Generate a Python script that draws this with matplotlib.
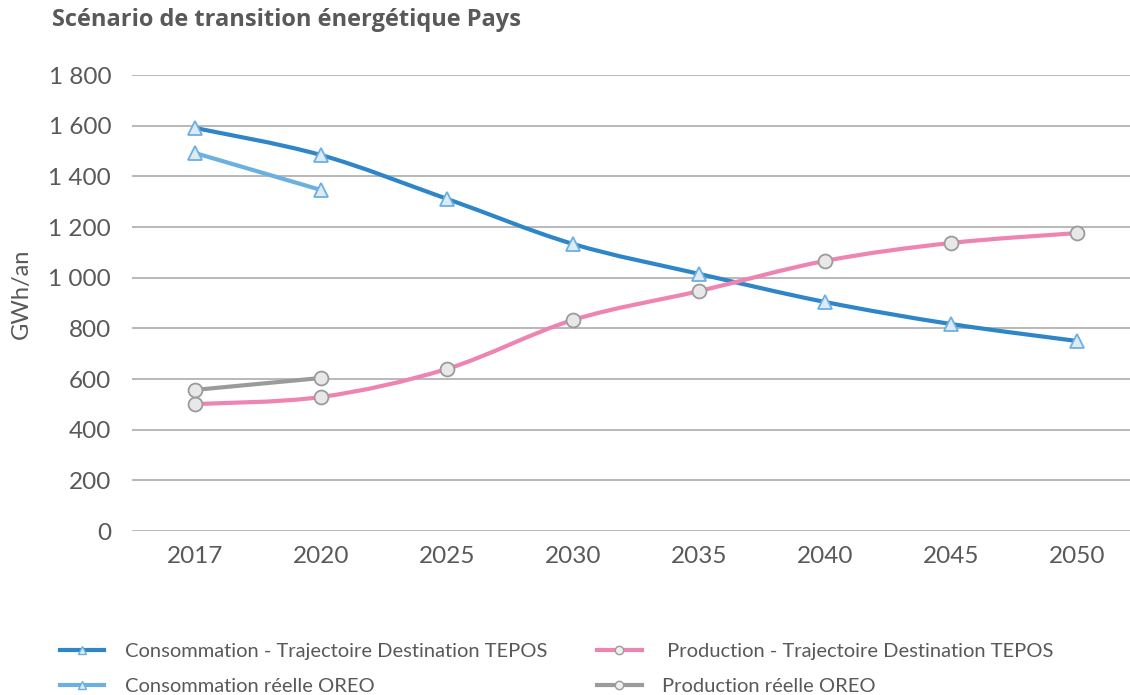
import matplotlib
matplotlib.use('Agg')
import matplotlib.pyplot as plt
from matplotlib.path import Path
from matplotlib.patches import PathPatch
from matplotlib.lines import Line2D
from matplotlib.ticker import FuncFormatter

plt.rcParams['font.family'] = ['Lato', 'DejaVu Sans']

years = ['2017', '2020', '2025', '2030', '2035', '2040', '2045', '2050']
conso_tepos = [1591, 1484, 1311, 1133, 1015, 904, 817, 750]
prod_tepos = [501, 529, 640, 833, 947, 1066, 1137, 1176]
conso_oreo = [1492, 1346]
prod_oreo = [557, 604]

labels = ['Consommation - Trajectoire Destination TEPOS',
          'Consommation réelle OREO',
          ' Production - Trajectoire Destination TEPOS',
          'Production réelle OREO']

TXT = '#595959'
BLUE = '#2E86C8'
LBLUE = '#6CB0E2'
PINK = '#EE84B2'
GREY = '#9B9B9B'


def smooth_path(xs, ys, t=1/6):
    # Excel-like smoothed line: cubic Bezier through each point
    verts = [(xs[0], ys[0])]
    codes = [Path.MOVETO]
    n = len(xs)
    for i in range(n - 1):
        x0, y0 = (xs[i - 1], ys[i - 1]) if i > 0 else (xs[i], ys[i])
        x1, y1 = xs[i], ys[i]
        x2, y2 = xs[i + 1], ys[i + 1]
        x3, y3 = (xs[i + 2], ys[i + 2]) if i + 2 < n else (x2, y2)
        c1 = (x1 + (x2 - x0) * t, y1 + (y2 - y0) * t)
        c2 = (x2 - (x3 - x1) * t, y2 - (y3 - y1) * t)
        verts += [c1, c2, (x2, y2)]
        codes += [Path.CURVE4] * 3
    return Path(verts, codes)


fig = plt.figure(figsize=(11.3, 6.95), dpi=100)
ax = fig.add_axes([132 / 1130, 1 - 531 / 695, 1 - 132 / 1130, (531 - 75) / 695])

x = list(range(len(years)))
series = [
    (x, conso_tepos, BLUE, '^', '#DDEBF7', LBLUE),
    (x[:2], conso_oreo, LBLUE, '^', '#DDEBF7', LBLUE),
    (x, prod_tepos, PINK, 'o', '#E8E8E8', GREY),
    (x[:2], prod_oreo, GREY, 'o', '#E8E8E8', GREY),
]
for xs, ys, col, mk, mfc, mec in series:
    ax.add_patch(PathPatch(smooth_path(xs, ys), facecolor='none', edgecolor=col,
                           lw=3.0, capstyle='round', zorder=3))
    ax.plot(xs, ys, ls='none', marker=mk, ms=10, mfc=mfc, mec=mec, mew=1.3, zorder=4)

ax.set_xlim(-0.5, 7.42)
ax.set_ylim(0, 1800)
ax.set_yticks(range(0, 1801, 200))
ax.yaxis.set_major_formatter(FuncFormatter(lambda v, p: f'{int(v):,}'.replace(',', ' ')))
ax.set_xticks(x)
ax.set_xticklabels(years)
ax.grid(axis='y', color='#B3B3B3', lw=1.3)
ax.set_axisbelow(True)
for s in ax.spines.values():
    s.set_visible(False)
ax.tick_params(length=0, labelsize=17.5, labelcolor=TXT)
ax.tick_params(axis='y', pad=15)
ax.tick_params(axis='x', pad=11)
ax.set_ylabel('GWh/an', fontsize=17, color=TXT)
ax.yaxis.set_label_coords(-0.1, 0.52)

fig.text(52 / 1130, 1 - 20 / 695, 'Scénario de transition énergétique Pays',
         fontsize=17, fontweight='bold', color=TXT, va='center', ha='left',
         family=['Open Sans', 'DejaVu Sans'])

handles = []
for xs, ys, col, mk, mfc, mec in series:
    handles.append(Line2D([], [], color=col, lw=3, marker=mk, ms=6,
                          mfc=mfc if mk == '^' else '#F0F0F0', mec=mec, mew=1))
fig.legend(handles, labels, ncol=2, loc='lower left',
           bbox_to_anchor=(42 / 1130, -0.026), frameon=False, fontsize=14.5,
           labelcolor=TXT, handlelength=2.2, handletextpad=1.0,
           columnspacing=2.5, labelspacing=0.9)

fig.savefig('out.png', dpi=100)
